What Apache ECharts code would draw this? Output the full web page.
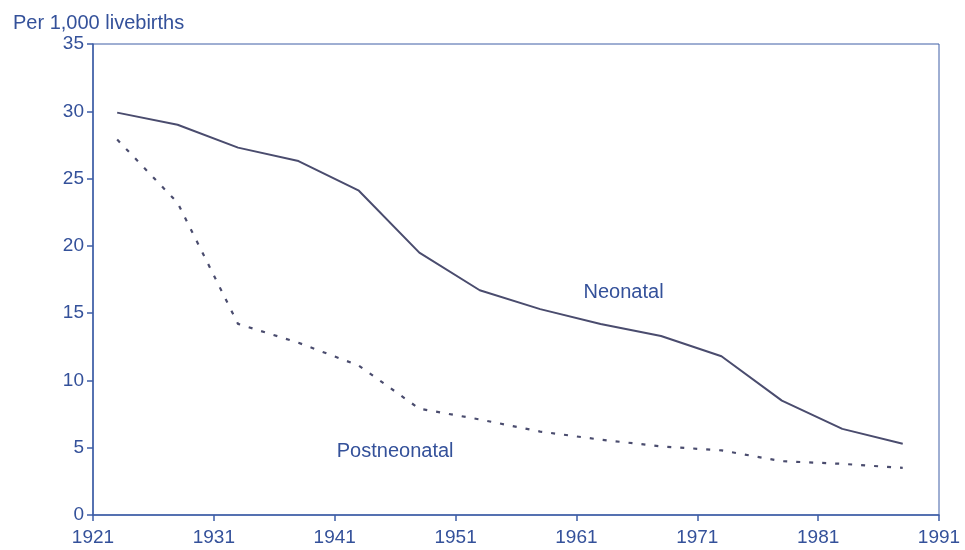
<!DOCTYPE html>
<html>
<head>
<meta charset="utf-8">
<script src="https://cdn.jsdelivr.net/npm/echarts@6/dist/echarts.min.js"></script>
<style>
  html, body { margin: 0; padding: 0; background: #fff; }
  #chart { width: 965px; height: 550px; }
</style>
</head>
<body>
<div id="chart"></div>
<script>
// years of the observations
const years = [1923, 1928, 1933, 1938, 1943, 1948, 1953, 1958, 1963, 1968, 1973, 1978, 1983, 1988];
// deaths per 1,000 livebirths
const neonatal = [29.9, 29.0, 27.3, 26.3, 24.1, 19.5, 16.7, 15.3, 14.2, 13.3, 11.8, 8.5, 6.4, 5.3];
const postneonatal = [27.9, 23.2, 14.2, 12.8, 11.1, 7.9, 7.1, 6.2, 5.6, 5.1, 4.8, 4.0, 3.8, 3.5];
const baseYear = 1921;
const yTicks = [0, 5, 10, 15, 20, 25, 30, 35];

const axisBlue = '#3e5ea6';
const textBlue = '#34519a';
const lineColor = '#4a4c6e';
const font = 'Liberation Sans, Arial, sans-serif';

// x values are offsets from 1921 so the ticks fall on 1921, 1931, ...
const toPairs = (vals) => vals.map((v, i) => [years[i] - baseYear, v]);

var chartDom = document.getElementById('chart');
var myChart = echarts.init(chartDom);

let option = {
    animation: false,
    backgroundColor: '#fff',
    grid: {
        left: 93, right: 26, top: 44, bottom: 35,
        show: true, borderColor: axisBlue, borderWidth: 1
    },
    title: {
        text: 'Per 1,000 livebirths',
        left: 8, top: 8,
        textStyle: { color: textBlue, fontSize: 20, fontWeight: 'normal', fontFamily: font }
    },
    xAxis: {
        type: 'value',
        min: 0, max: 70, interval: 10,
        splitLine: { show: false },
        axisLine: { lineStyle: { color: axisBlue, width: 1.5 } },
        axisTick: { show: true, length: 6, lineStyle: { color: axisBlue, width: 1.5 } },
        axisLabel: {
            color: textBlue, fontSize: 19, fontFamily: font, margin: 13,
            formatter: (v) => String(v + baseYear)
        }
    },
    yAxis: {
        type: 'value',
        min: yTicks[0], max: yTicks[yTicks.length - 1], interval: 5,
        splitLine: { show: false },
        axisLine: { show: true, lineStyle: { color: axisBlue, width: 1.5 } },
        axisTick: { show: true, length: 6, lineStyle: { color: axisBlue, width: 1.5 } },
        axisLabel: { color: textBlue, fontSize: 19, fontFamily: font, margin: 9 }
    },
    series: [
        {
            name: 'Neonatal',
            type: 'line',
            data: toPairs(neonatal),
            symbol: 'none',
            lineStyle: { color: lineColor, width: 2 },
            markPoint: {
                symbolSize: 0,
                data: [{ coord: [43.9, 16.5] }],
                label: {
                    show: true, formatter: 'Neonatal', position: 'inside',
                    color: textBlue, fontSize: 20, fontFamily: font
                }
            }
        },
        {
            name: 'Postneonatal',
            type: 'line',
            data: toPairs(postneonatal),
            symbol: 'none',
            lineStyle: { color: lineColor, width: 2.2, type: [4, 9] },
            markPoint: {
                symbolSize: 0,
                data: [{ coord: [25.0, 4.7] }],
                label: {
                    show: true, formatter: 'Postneonatal', position: 'inside',
                    color: textBlue, fontSize: 20, fontFamily: font
                }
            }
        }
    ]
};
option && myChart.setOption(option);
</script>
</body>
</html>
